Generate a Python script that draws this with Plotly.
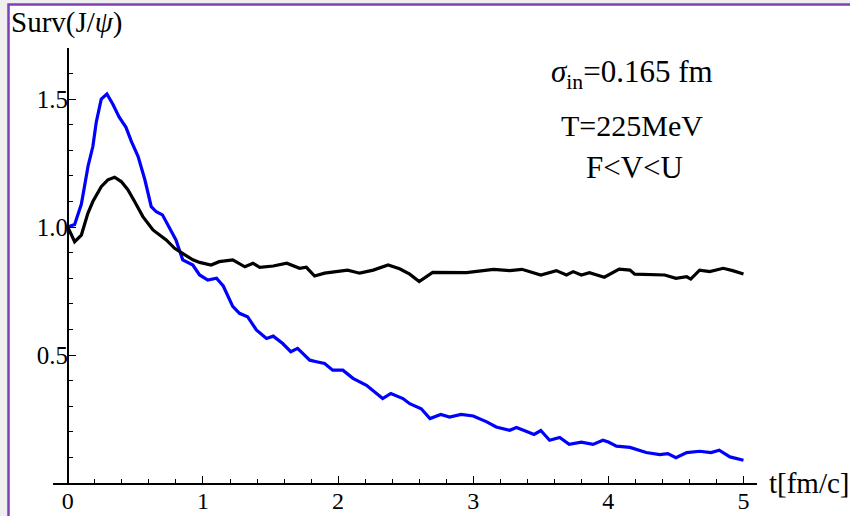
import plotly.graph_objects as go

# ---- data ----
t_blue = [0.0, 0.05, 0.10, 0.15, 0.185, 0.21, 0.247, 0.289, 0.333, 0.38, 0.43, 0.47, 0.52, 0.57,
          0.617, 0.654, 0.70, 0.75, 0.80, 0.85, 0.925, 0.975, 1.036, 1.10, 1.15, 1.22, 1.27, 1.33,
          1.395, 1.47, 1.52, 1.59, 1.65, 1.70, 1.79, 1.84, 1.90, 1.96, 2.035, 2.11, 2.21, 2.33,
          2.39, 2.48, 2.53, 2.615, 2.68, 2.76, 2.825, 2.91, 3.0, 3.10, 3.17, 3.27, 3.32, 3.40,
          3.45, 3.50, 3.565, 3.64, 3.71, 3.80, 3.886, 3.96, 4.0, 4.06, 4.16, 4.28, 4.38, 4.44,
          4.50, 4.58, 4.675, 4.76, 4.82, 4.90, 5.0]
surv_blue = [1.0, 1.01, 1.09, 1.24, 1.315, 1.41, 1.50, 1.52, 1.48, 1.43, 1.39, 1.335, 1.276, 1.185,
             1.08, 1.06, 1.048, 1.0, 0.95, 0.872, 0.852, 0.813, 0.793, 0.80, 0.77, 0.69, 0.663, 0.65,
             0.598, 0.565, 0.574, 0.545, 0.513, 0.526, 0.48, 0.474, 0.467, 0.441, 0.441, 0.409, 0.382, 0.33,
             0.35, 0.33, 0.31, 0.29, 0.252, 0.268, 0.258, 0.268, 0.262, 0.239, 0.219, 0.206, 0.217, 0.20,
             0.19, 0.205, 0.167, 0.178, 0.151, 0.16, 0.151, 0.167, 0.16, 0.144, 0.139, 0.119, 0.111, 0.115,
             0.099, 0.119, 0.124, 0.119, 0.128, 0.102, 0.089]

t_black = [0.0, 0.05, 0.10, 0.148, 0.185, 0.247, 0.296, 0.346, 0.395, 0.444, 0.494, 0.555, 0.63,
           0.728, 0.79, 0.851, 0.925, 0.975, 1.06, 1.12, 1.22, 1.31, 1.37, 1.42, 1.52, 1.62, 1.715,
           1.765, 1.826, 1.90, 1.987, 2.07, 2.16, 2.26, 2.37, 2.455, 2.53, 2.60, 2.70, 2.80, 2.95,
           3.15, 3.27, 3.36, 3.50, 3.615, 3.69, 3.74, 3.80, 3.86, 3.97, 4.08, 4.16, 4.195, 4.305,
           4.417, 4.50, 4.58, 4.61, 4.675, 4.75, 4.85, 4.92, 5.0]
surv_black = [1.0, 0.943, 0.969, 1.054, 1.10, 1.158, 1.185, 1.195, 1.178, 1.146, 1.10, 1.041, 0.989,
              0.95, 0.917, 0.898, 0.872, 0.862, 0.852, 0.865, 0.872, 0.845, 0.859, 0.843, 0.848, 0.859, 0.839,
              0.843, 0.809, 0.82, 0.826, 0.832, 0.82, 0.832, 0.852, 0.837, 0.816, 0.787, 0.823, 0.822, 0.822,
              0.835, 0.830, 0.835, 0.813, 0.83, 0.813, 0.826, 0.813, 0.822, 0.804, 0.836, 0.832, 0.816, 0.816,
              0.813, 0.80, 0.806, 0.797, 0.832, 0.826, 0.839, 0.830, 0.817]

x_ticks = [0, 1, 2, 3, 4, 5]
y_ticks = [0.5, 1.0, 1.5]
y_tick_text = ["0.5", "1.0", "1.5"]

W, H = 850, 516
FONT = "Liberation Serif"

xr = [-0.11, 5.1]
yr = [0.0, 1.7]
xdom = [53 / W, 757 / W]
ydom = [(H - 483) / H, (H - 48) / H]
ypos = xdom[0] + (0 - xr[0]) / (xr[1] - xr[0]) * (xdom[1] - xdom[0])

fig = go.Figure()
fig.add_trace(go.Scatter(x=t_blue, y=surv_blue, mode="lines",
                         line=dict(color="#0000ff", width=3.2), showlegend=False))
fig.add_trace(go.Scatter(x=t_black, y=surv_black, mode="lines",
                         line=dict(color="#000000", width=3.2), showlegend=False))

fig.update_layout(
    width=W, height=H,
    margin=dict(l=0, r=0, t=0, b=0, autoexpand=False),
    paper_bgcolor="#efefef",
    plot_bgcolor="white",
    font=dict(family=FONT, color="black", size=25),
    xaxis=dict(domain=xdom, range=xr, showgrid=False, zeroline=False, automargin=False,
               showline=True, linecolor="black", linewidth=1.5,
               ticks="inside", ticklen=7, tickwidth=1.2, tickcolor="black",
               tickvals=x_ticks, tickfont=dict(family=FONT, size=24), ticklabelstandoff=-5,
               minor=dict(dtick=0.2, tick0=0, ticks="inside", ticklen=4,
                          tickwidth=1.2, tickcolor="black")),
    yaxis=dict(domain=ydom, range=yr, showgrid=False, zeroline=False, automargin=False,
               anchor="free", position=ypos,
               showline=True, linecolor="black", linewidth=1.5,
               ticks="inside", ticklen=7, tickwidth=1.2, tickcolor="black",
               tickvals=y_ticks, ticktext=y_tick_text,
               tickfont=dict(family=FONT, size=25), ticklabelstandoff=-6,
               minor=dict(dtick=0.1, tick0=0, ticks="inside", ticklen=4,
                          tickwidth=1.2, tickcolor="black")),
    shapes=[dict(type="rect", xref="paper", yref="paper", layer="below",
                 x0=8.5 / W, x1=1.05, y0=-0.05, y1=(H - 4.5) / H,
                 fillcolor="white", line=dict(color="#7e3fb9", width=2.5))],
    annotations=[
        dict(text="Surv(J/<i>ψ</i>)", xref="paper", yref="paper",
             x=9 / W, y=(H - 23) / H, xanchor="left", yanchor="middle",
             showarrow=False, font=dict(family=FONT, size=29)),
        dict(text="t[fm/c]", xref="paper", yref="paper",
             x=767 / W, y=(H - 483) / H, xanchor="left", yanchor="middle",
             showarrow=False, font=dict(family=FONT, size=29)),
        dict(text="<i>σ</i><sub>in</sub>=0.165 fm", xref="paper", yref="paper",
             x=632 / W, y=(H - 74) / H, xanchor="center", yanchor="middle",
             showarrow=False, font=dict(family=FONT, size=31)),
        dict(text="T=225MeV", xref="paper", yref="paper",
             x=632 / W, y=(H - 125) / H, xanchor="center", yanchor="middle",
             showarrow=False, font=dict(family=FONT, size=30)),
        dict(text="F&lt;V&lt;U", xref="paper", yref="paper",
             x=634 / W, y=(H - 167) / H, xanchor="center", yanchor="middle",
             showarrow=False, font=dict(family=FONT, size=31)),
    ],
)

fig.write_html("out.html")
